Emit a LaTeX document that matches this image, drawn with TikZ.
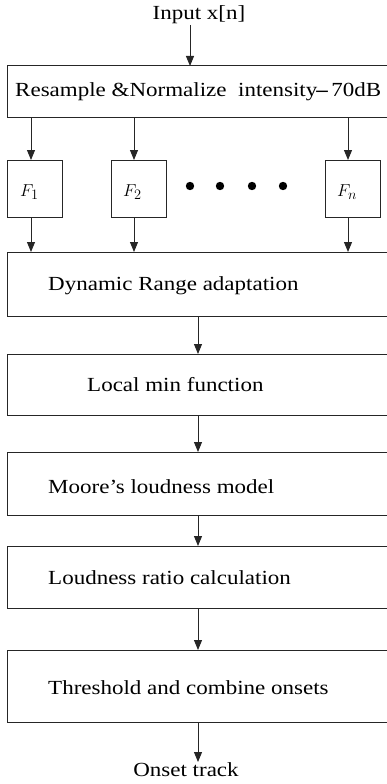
\documentclass[tikz,border=0pt]{standalone}
\usepackage{fontspec}
\setmainfont[FakeStretch=1.15]{Liberation Serif}
\usetikzlibrary{arrows.meta}
\begin{document}
\begin{tikzpicture}[x=1pt,y=-1pt,
  box/.style={draw=black!85,line width=1pt},
  arr/.style={draw=black!85,line width=1pt,-{Triangle[length=10pt,width=8pt]}},
  lbl/.style={font=\fontsize{20}{24}\selectfont,anchor=west,inner sep=0pt},
  fl/.style={font=\fontsize{19}{22}\selectfont,anchor=west,inner sep=0pt}]
\useasboundingbox (0,0) rectangle (387,784);
\clip (0,0) rectangle (387,784);
% input / output labels
\node[font=\fontsize{20}{24}\selectfont,inner sep=0pt] (in) at (199,15) {Input x[n]};
\node[font=\fontsize{20}{24}\selectfont,inner sep=0pt] (out) at (186,770) {Onset track};
% main boxes
\draw[box] (7,66) rectangle (400,117); \coordinate (rs) at (190,66);
\node[lbl] (rst) at (15,92) {Resample \&Normalize\ \ intensity\hspace{-1pt}\textbf{--}\,70dB};
% filter boxes
\draw[box] (7,160) rectangle (62,217);
\draw[box] (111,160) rectangle (166,217);
\draw[box] (325,160) rectangle (380,217);
\node[fl] (f1) at (20,192) {$F_1$};
\node[fl] (f2) at (123,192) {$F_2$};
\node[fl] (fn) at (337,192) {$F_n$};
\foreach \x in {190,220,252,283} \fill (\x,186) circle (4.2);
% chain boxes
\draw[box] (7,252) rectangle (400,316);
\node[lbl] (dr) at (48,286) {Dynamic Range adaptation};
\draw[box] (7,354) rectangle (400,415);
\node[lbl] (lm) at (87,385) {Local min function};
\draw[box] (7,452) rectangle (400,515);
\node[lbl] (mo) at (48,487) {Moore’s loudness model};
\draw[box] (7,546) rectangle (400,608);
\node[lbl] (lr) at (48,578) {Loudness ratio calculation};
\draw[box] (7,650) rectangle (400,722);
\node[lbl] (th) at (48,688) {Threshold and combine onsets};
% arrows
\draw[arr] (190,25) -- (190,66);
\foreach \x in {31,134,348} {
  \draw[arr] (\x,117) -- (\x,160);
  \draw[arr] (\x,217) -- (\x,252);
}
\draw[arr] (198,316) -- (198,354);
\draw[arr] (198,415) -- (198,452);
\draw[arr] (198,515) -- (198,546);
\draw[arr] (198,608) -- (198,650);
\draw[arr] (198,722) -- (198,762);
\end{tikzpicture}
\end{document}
